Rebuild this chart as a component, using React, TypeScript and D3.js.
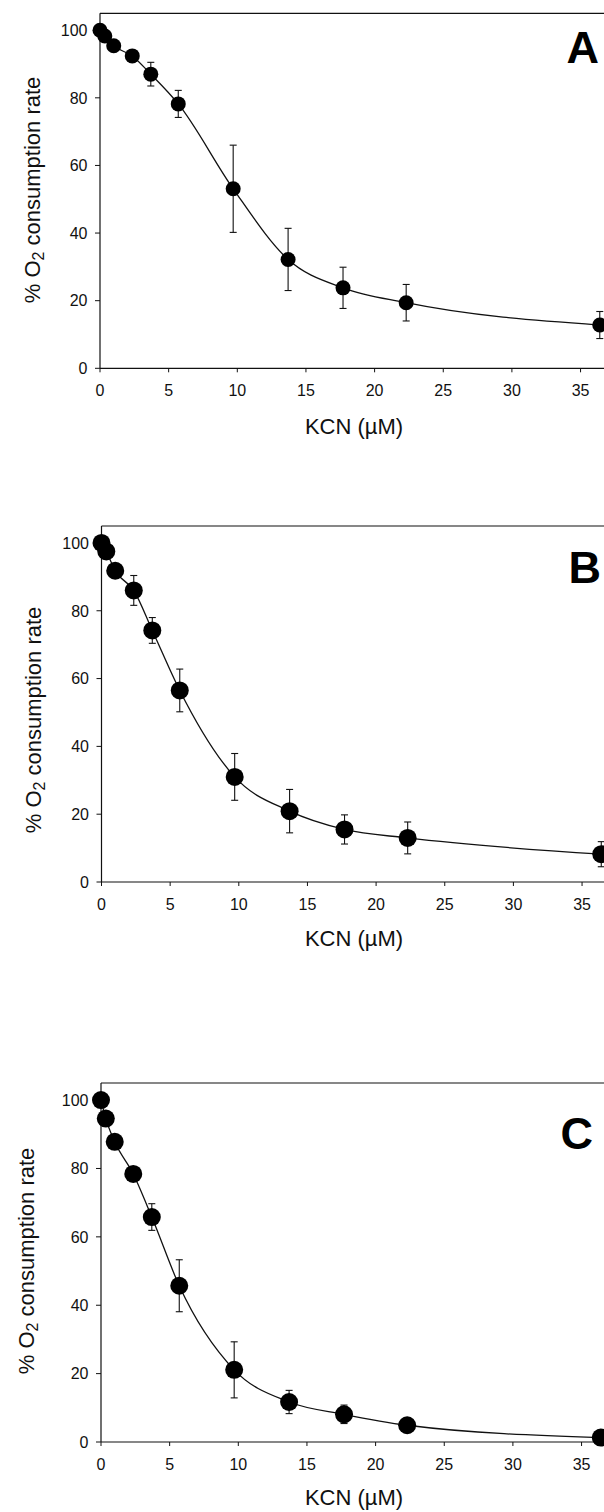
import React from "react";
import * as d3 from "d3";

// KCN concentrations (µM)
const kcn = [0, 0.35, 1, 2.35, 3.7, 5.7, 9.7, 13.7, 17.7, 22.3, 36.4];

// Panel A
const valuesA = [100, 98.3, 95.4, 92.4, 87.0, 78.2, 53.1, 32.2, 23.8, 19.4, 12.8];
const errorsA = [0, 0, 0, 0, 3.5, 4.0, 12.9, 9.2, 6.1, 5.4, 4.0];
// Panel B
const valuesB = [100, 97.5, 91.8, 86.0, 74.2, 56.5, 31.0, 20.9, 15.5, 13.0, 8.2];
const errorsB = [0, 0, 0, 4.4, 3.8, 6.3, 6.9, 6.4, 4.3, 4.7, 3.7];
// Panel C
const valuesC = [100, 94.6, 87.8, 78.4, 65.8, 45.7, 21.1, 11.7, 8.1, 4.9, 1.3];
const errorsC = [0, 0, 0, 0, 3.9, 7.6, 8.2, 3.4, 2.7, 0, 0];

const xTicks = [0, 5, 10, 15, 20, 25, 30, 35];
const yTicks = [0, 20, 40, 60, 80, 100];
const panelLetters = ["A", "B", "C"];
const xLabel = "KCN (µM)";

const FONT = "'Liberation Sans', Arial, Helvetica, sans-serif";

type PanelGeom = {
  left: number;
  top: number;
  bottom: number;
  r: number;
  letterX: number;
  letterY: number;
  yLabelX: number;
  yLabelY: number;
  xLabelY: number;
};

const geoms: PanelGeom[] = [
  { left: 100, top: 13.3, bottom: 368.3, r: 7.5, letterX: 599, letterY: 63, yLabelX: 40, yLabelY: 190, xLabelY: 434 },
  { left: 101.5, top: 526, bottom: 882, r: 9, letterX: 601, letterY: 583, yLabelX: 41, yLabelY: 720, xLabelY: 946 },
  { left: 101, top: 1083, bottom: 1442, r: 9, letterX: 593, letterY: 1149, yLabelX: 34, yLabelY: 1261, xLabelY: 1505 },
];

function Panel({ g, values, errors, letter }: { g: PanelGeom; values: number[]; errors: number[]; letter: string }) {
  const x = d3.scaleLinear().domain([0, 37.5]).range([g.left, g.left + 37.5 * 13.73]);
  const y = d3.scaleLinear().domain([0, 105]).range([g.bottom, g.top]);
  const pts: [number, number][] = kcn.map((k, i) => [k, values[i]]);
  const line = d3
    .line<[number, number]>()
    .x((d) => x(d[0]))
    .y((d) => y(d[1]))
    .curve(d3.curveMonotoneX);
  const right = x(37.5);
  return (
    <g>
      {/* frame: top, left, bottom */}
      <line x1={g.left} x2={right} y1={y(105)} y2={y(105)} stroke="#111" strokeWidth={1.2} />
      <line x1={g.left} x2={g.left} y1={y(105)} y2={y(0)} stroke="#111" strokeWidth={1.2} />
      <line x1={g.left} x2={right} y1={y(0)} y2={y(0)} stroke="#111" strokeWidth={1.2} />
      {/* y ticks */}
      {yTicks.map((t) => (
        <g key={"y" + t}>
          <line x1={g.left - 5} x2={g.left} y1={y(t)} y2={y(t)} stroke="#111" strokeWidth={1} />
          <text x={g.left - 12.5} y={y(t)} dy="0.36em" textAnchor="end" fontSize={16} fontFamily={FONT} fill="#111">
            {t}
          </text>
        </g>
      ))}
      {/* x ticks */}
      {xTicks.map((t) => (
        <g key={"x" + t}>
          <line x1={x(t)} x2={x(t)} y1={y(0)} y2={y(0) + 4} stroke="#111" strokeWidth={1} />
          <text x={x(t)} y={y(0) + 28} textAnchor="middle" fontSize={16} fontFamily={FONT} fill="#111">
            {t}
          </text>
        </g>
      ))}
      {/* fitted curve */}
      <path d={line(pts) || ""} fill="none" stroke="#111" strokeWidth={1.3} />
      {/* error bars */}
      {kcn.map((k, i) =>
        errors[i] > 0 ? (
          <g key={"e" + i} stroke="#111" strokeWidth={1.1}>
            <line x1={x(k)} x2={x(k)} y1={y(values[i] + errors[i])} y2={y(values[i] - errors[i])} />
            <line x1={x(k) - 3.5} x2={x(k) + 3.5} y1={y(values[i] + errors[i])} y2={y(values[i] + errors[i])} />
            <line x1={x(k) - 3.5} x2={x(k) + 3.5} y1={y(values[i] - errors[i])} y2={y(values[i] - errors[i])} />
          </g>
        ) : null
      )}
      {/* markers */}
      {kcn.map((k, i) => (
        <circle key={"c" + i} cx={x(k)} cy={y(values[i])} r={g.r} fill="#000" />
      ))}
      {/* panel letter */}
      <text x={g.letterX} y={g.letterY} textAnchor="end" fontSize={45} fontWeight="bold" fontFamily={FONT} fill="#000">
        {letter}
      </text>
      {/* y label */}
      <text
        transform={`translate(${g.yLabelX},${g.yLabelY}) rotate(-90)`}
        textAnchor="middle"
        fontSize={22}
        fontFamily={FONT}
        fill="#111"
      >
        % O
        <tspan fontSize={16} dy={4}>2</tspan>
        <tspan dy={-4}> consumption rate</tspan>
      </text>
      {/* x label */}
      <text x={354} y={g.xLabelY} textAnchor="middle" fontSize={22} fontFamily={FONT} fill="#111">
        {xLabel}
      </text>
    </g>
  );
}

export default function App() {
  const data = [
    { values: valuesA, errors: errorsA },
    { values: valuesB, errors: errorsB },
    { values: valuesC, errors: errorsC },
  ];
  return (
    <svg
      width={604}
      height={1512}
      style={{ position: "absolute", left: 0, top: 0, background: "#fff" }}
    >
      <rect x={0} y={0} width={604} height={1512} fill="#fff" />
      {data.map((d, i) => (
        <Panel key={i} g={geoms[i]} values={d.values} errors={d.errors} letter={panelLetters[i]} />
      ))}
    </svg>
  );
}
